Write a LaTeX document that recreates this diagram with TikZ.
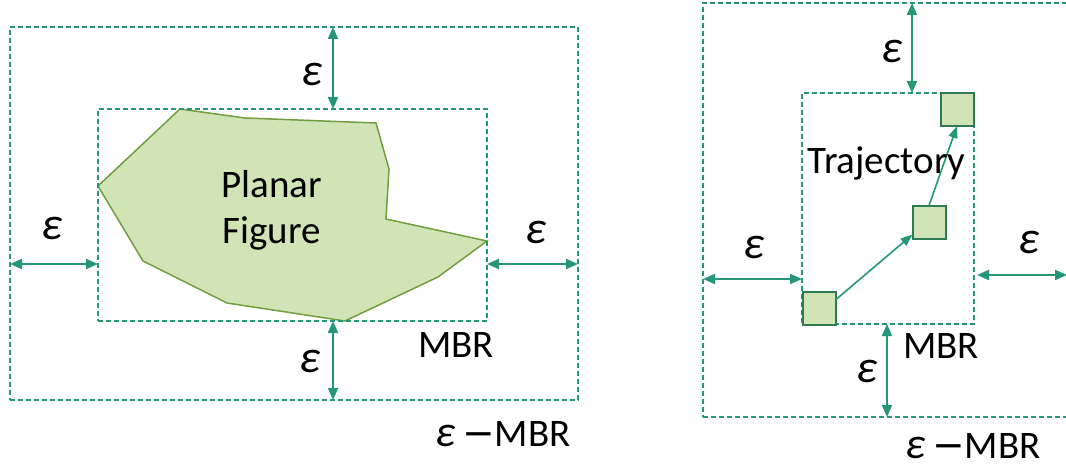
\documentclass[tikz,border=0pt]{standalone}
\usepackage{fontspec}
\setmainfont{Carlito}
\newfontfamily\dashfont{DejaVu Sans}
\usepackage{tikz}
\usetikzlibrary{arrows.meta}

\definecolor{mbrgreen}{RGB}{35,151,118}
\definecolor{figline}{RGB}{114,158,64}
\definecolor{figfill}{RGB}{208,228,181}
\definecolor{sqline}{RGB}{46,122,84}

\newcommand{\epsmbr}{{\fontsize{44}{44}\selectfont\itshape ε}\,{\dashfont −}MBR}

\begin{document}
\begin{tikzpicture}[x=1pt, y=-1pt,
    every node/.style={font=\fontsize{39}{46}\selectfont, inner sep=0pt, outer sep=0pt},
    box/.style={draw=mbrgreen, line width=1.4pt, dash pattern=on 5pt off 3pt},
    eps/.style={mbrgreen, line width=2pt, {Triangle[length=12pt,width=10pt]}-{Triangle[length=12pt,width=10pt]}},
    epsilon/.style={font=\fontsize{46}{46}\selectfont\itshape},
    cell/.style={draw=sqline, line width=2pt, fill=figfill, minimum size=33pt},
    move/.style={mbrgreen, line width=1.6pt, -{Triangle[length=12pt,width=9pt]}}]

    \useasboundingbox (0,0) rectangle (1066,468);
    \clip (0,0) rectangle (1066,468);

    % planar figure
    \draw[figline, fill=figfill, line width=1.5pt] (180,109) -- (245,118) -- (376,123) -- (389,169)
        -- (386,219) -- (487,241) -- (438,277) -- (345,321) -- (227,303) -- (143,261) -- (98,186) -- cycle;

    \node[box, minimum width=568pt, minimum height=373pt] (lout) at (294,213.5) {};
    \node[box, minimum width=389pt, minimum height=212pt] (lmbr) at (292.5,215) {};
    \node[align=center] (planar) at (271.5,210) {Planar\\Figure};

    \coordinate (lx) at (333,0);
    \coordinate (ly) at (0,264);
    \draw[eps] (lout.north -| lx) -- (lmbr.north -| lx);
    \draw[eps] (lmbr.south -| lx) -- (lout.south -| lx);
    \draw[eps] (lout.west |- ly) -- (lmbr.west |- ly);
    \draw[eps] (lmbr.east |- ly) -- (lout.east |- ly);

    \node[epsilon] (le1) at (312,74) {ε};
    \node[epsilon] (le2) at (52,228) {ε};
    \node[epsilon] (le3) at (536,232) {ε};
    \node[epsilon] (le4) at (310,361) {ε};
    \node[anchor=base] (lmbrtxt) at (456,357) {MBR};
    \node[anchor=base] (louttxt) at (503,446) {\epsmbr};

    % trajectory
    \node[box, minimum width=387pt, minimum height=414pt] (rout) at (896.5,210) {};
    \node[box, minimum width=172pt, minimum height=231pt] (rmbr) at (888,208.5) {};
    \coordinate (redge) at (1067,0);

    \node[cell] (sq1) at (819.5,308) {};
    \node[cell] (sq2) at (929,222) {};
    \node[cell] (sq3) at (957,109.5) {};
    \draw[move] ([yshift=-8pt]sq1.north east) -- ([yshift=4pt]sq2.south west);
    \draw[move] (sq2.north) -- (sq3.south);
    \node[anchor=base] (traj) at (886.5,174) {Trajectory};

    \coordinate (rx1) at (912,0);
    \coordinate (rx2) at (887,0);
    \coordinate (ry1) at (0,279);
    \coordinate (ry2) at (0,275);
    \draw[eps] (rout.north -| rx1) -- (rmbr.north -| rx1);
    \draw[eps] (rmbr.south -| rx2) -- (rout.south -| rx2);
    \draw[eps] (rout.west |- ry1) -- (rmbr.west |- ry1);
    \draw[eps] ([xshift=3pt]rmbr.east |- ry2) -- (redge |- ry2);

    \node[epsilon] (re1) at (892,51) {ε};
    \node[epsilon] (re2) at (754,247) {ε};
    \node[epsilon] (re3) at (1029,242) {ε};
    \node[epsilon] (re4) at (867,371) {ε};
    \node[anchor=base] (rmbrtxt) at (941,358) {MBR};
    \node[anchor=base] (routtxt) at (973,458) {\epsmbr};
\end{tikzpicture}
\end{document}
